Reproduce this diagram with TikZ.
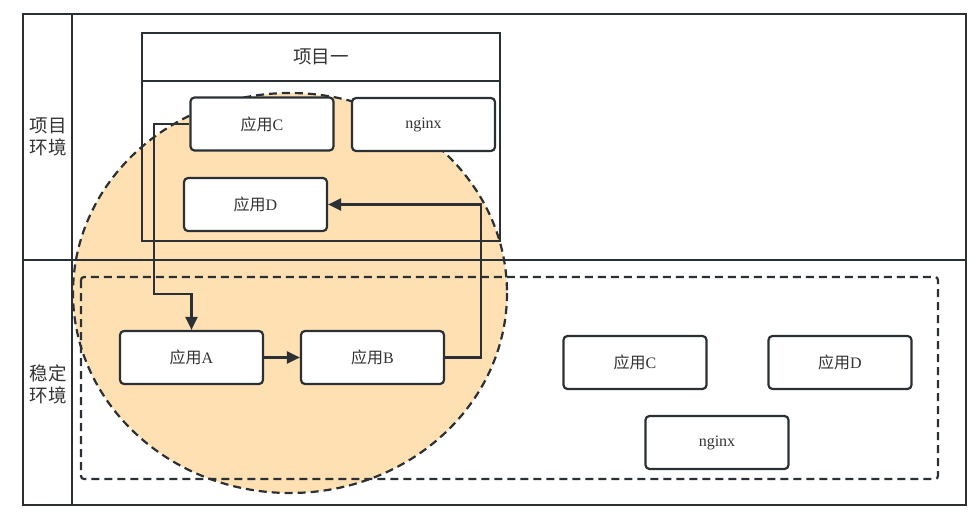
\documentclass[tikz,border=0pt]{standalone}
\usepackage{fontspec}
\setmainfont{Liberation Serif}
\newfontfamily\cjk{Noto Sans CJK SC}
\usetikzlibrary{arrows.meta}

\definecolor{linegray}{HTML}{2B3035}
\definecolor{textgray}{HTML}{333333}
\definecolor{peach}{HTML}{FFE0B2}

\newcommand{\yy}[1]{{\cjk 应用}#1}

\tikzset{
  app/.style={draw=linegray, line width=2.2pt, rounded corners=4pt, fill=white,
    minimum width=143pt, minimum height=53pt, inner sep=0pt,
    text=textgray, font=\fontsize{16}{18}\selectfont},
  side/.style={text=textgray, align=center, font=\cjk\fontsize{18.5}{22}\selectfont},
  flow/.style={draw=linegray, line width=2.2pt, -{Triangle[length=13pt,width=12pt]}},
  dashline/.style={draw=linegray, line width=2.2pt, dash pattern=on 8pt off 5pt}
}

\begin{document}
\begin{tikzpicture}[x=1pt, y=-1pt]
  \useasboundingbox (0,0) rectangle (978,516);

  % Highlight ellipse (behind everything)
  \draw[dashline, fill=peach] (290,293) ellipse [x radius=217, y radius=200];

  % Outer frame and lanes
  \draw[linegray, line width=2.4pt] (23,14) rectangle (966,505);
  \draw[linegray, line width=2.4pt] (72,14) -- (72,505);
  \draw[linegray, line width=2.4pt] (23,260) -- (966,260);

  % Lane labels
  \node[side] (laneproj) at (48,137) {项目\\环境};
  \node[side] (lanestable) at (48,384) {稳定\\环境};

  % Project box
  \draw[linegray, line width=2.2pt] (142,33) rectangle (500,241);
  \draw[linegray, line width=2.2pt] (142,81) -- (500,81);
  \node[text=textgray, font=\cjk\fontsize{18.5}{22}\selectfont] (projtitle) at (321,57) {项目一};

  % Stable environment area
  \draw[dashline, rounded corners=3pt] (81,277) rectangle (938,479);

  % Project apps
  \node[app] (c1) at (262,124) {\yy{C}};
  \node[app] (ng1) at (423.5,124.5) {nginx};
  \node[app] (d1) at (255.5,204.5) {\yy{D}};

  % Stable apps
  \node[app] (a) at (191.5,357.5) {\yy{A}};
  \node[app] (b) at (372.5,357.5) {\yy{B}};
  \node[app] (c2) at (635,362.5) {\yy{C}};
  \node[app] (d2) at (840,362.5) {\yy{D}};
  \node[app] (ng2) at (717,442.5) {nginx};

  % Call chain
  \coordinate (turn1) at (154,294);
  \coordinate (turn2) at (481,204.5);
  \draw[flow] (c1.west) -| (turn1) -| (a.north);
  \draw[flow] (a.east) -- (b.west);
  \draw[flow] (b.east) -| (turn2) -- (d1.east);
\end{tikzpicture}
\end{document}
